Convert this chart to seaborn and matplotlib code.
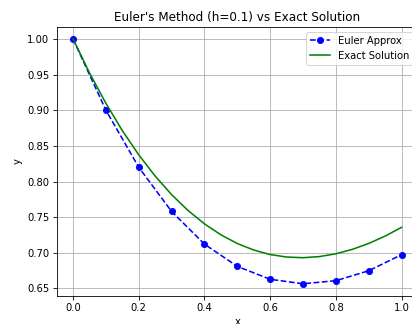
import matplotlib
matplotlib.use("Agg")
import matplotlib.pyplot as plt
import seaborn as sns
import pandas as pd

# Euler approximation, h = 0.1
x_euler = [0.0, 0.1, 0.2, 0.3, 0.4, 0.5, 0.6, 0.7, 0.8, 0.9, 1.0]
y_euler = [1.0, 0.9, 0.82, 0.758, 0.7122, 0.68098, 0.66288, 0.65659, 0.66093, 0.67484, 0.69736]

# exact solution, sampled
x_exact = [0.0, 0.05, 0.1, 0.15, 0.2, 0.25, 0.3, 0.35, 0.4, 0.45, 0.5,
           0.55, 0.6, 0.65, 0.7, 0.75, 0.8, 0.85, 0.9, 0.95, 1.0]
y_exact = [1.0, 0.95246, 0.90968, 0.87142, 0.83746, 0.80760, 0.78164, 0.75938,
           0.74064, 0.72526, 0.71306, 0.70390, 0.69762, 0.69409, 0.69317,
           0.69473, 0.69866, 0.70483, 0.71314, 0.72348, 0.73576]

df_euler = pd.DataFrame({"x": x_euler, "y": y_euler})
df_exact = pd.DataFrame({"x": x_exact, "y": y_exact})

plt.rcParams.update({"font.size": 9.6, "axes.titlesize": 11.5,
                     "xtick.labelsize": 9.6, "ytick.labelsize": 9.6,
                     "legend.fontsize": 9.6})

fig = plt.figure(figsize=(412 / 75, 324 / 75), dpi=75)
ax = fig.add_axes([0.1375, 0.0864, 0.877, 0.831])

sns.lineplot(data=df_euler, x="x", y="y", ax=ax, color="blue", linestyle="--",
             marker="o", markeredgecolor="blue", markersize=6, linewidth=1.5,
             label="Euler Approx")
sns.lineplot(data=df_exact, x="x", y="y", ax=ax, color="green", linewidth=1.5,
             label="Exact Solution")

ax.set_title("Euler's Method (h=0.1) vs Exact Solution")
ax.set_xlabel("x")
ax.set_ylabel("y")
ax.grid(True)
ax.legend(loc="upper right")

fig.savefig("out.png", dpi=75)
